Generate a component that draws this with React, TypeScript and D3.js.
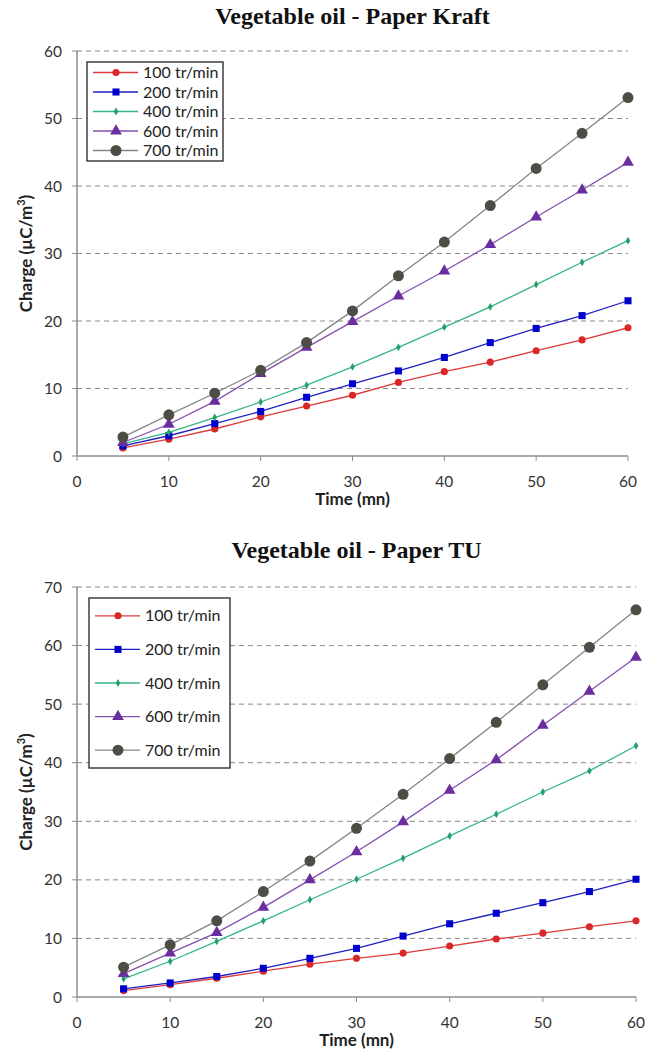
import React, { useEffect, useRef } from 'react';
import * as d3 from 'd3';

// time axis (mn)
const times = [5, 10, 15, 20, 25, 30, 35, 40, 45, 50, 55, 60];
const speeds = ['100 tr/min', '200 tr/min', '400 tr/min', '600 tr/min', '700 tr/min'];
const xTicks = [0, 10, 20, 30, 40, 50, 60];
const kraftTicks = [0, 10, 20, 30, 40, 50, 60];
const tuTicks = [0, 10, 20, 30, 40, 50, 60, 70];

// Vegetable oil - Paper Kraft
const kraft100 = [1.2, 2.5, 4.0, 5.8, 7.4, 9.0, 10.9, 12.5, 13.9, 15.6, 17.2, 19.0];
const kraft200 = [1.5, 3.0, 4.8, 6.6, 8.7, 10.7, 12.6, 14.6, 16.8, 18.9, 20.8, 23.0];
const kraft400 = [1.8, 3.5, 5.7, 8.0, 10.5, 13.2, 16.1, 19.1, 22.1, 25.4, 28.7, 31.9];
const kraft600 = [2.0, 4.7, 8.1, 12.2, 16.1, 19.9, 23.7, 27.4, 31.3, 35.4, 39.4, 43.5];
const kraft700 = [2.8, 6.1, 9.3, 12.7, 16.8, 21.5, 26.7, 31.7, 37.1, 42.6, 47.8, 53.1];

// Vegetable oil - Paper TU
const tu100 = [1.1, 2.1, 3.2, 4.4, 5.6, 6.6, 7.5, 8.7, 9.9, 10.9, 12.0, 13.0];
const tu200 = [1.4, 2.4, 3.5, 4.9, 6.6, 8.3, 10.4, 12.5, 14.3, 16.1, 18.0, 20.1];
const tu400 = [3.1, 6.1, 9.5, 13.0, 16.6, 20.1, 23.7, 27.5, 31.2, 35.0, 38.6, 42.9];
const tu600 = [4.0, 7.5, 11.0, 15.3, 20.0, 24.8, 29.9, 35.3, 40.5, 46.4, 52.2, 58.0];
const tu700 = [5.1, 8.9, 13.0, 18.0, 23.2, 28.8, 34.6, 40.7, 46.9, 53.3, 59.7, 66.1];

const lineColors = ['#e03a3a', '#2020c0', '#35b585', '#8450b0', '#858585'];
const markColors = ['#d82828', '#0000cc', '#22a068', '#6a2e9e', '#4d4d45'];
const markTypes = [d3.symbolCircle, d3.symbolSquare, d3.symbolDiamond, d3.symbolTriangle, d3.symbolCircle];
const markSizes = [40, 50, 18, 60, 95];

const sansFont = 'Lato, "Open Sans", sans-serif';

type ChartProps = {
  top: number;
  title: string;
  series: number[][];
  yTicks: number[];
  plot: { x0: number; x1: number; y0: number; y1: number };
  legend: { x: number; y: number; w: number; h: number; row: number };
};

const drawChart = (svg: d3.Selection<SVGSVGElement, unknown, null, undefined>, p: ChartProps) => {
  const g = svg.append('g');
  const { x0, x1, y0, y1 } = p.plot;
  const x = d3.scaleLinear().domain([0, 60]).range([x0, x1]);
  const y = d3.scaleLinear().domain([0, d3.max(p.yTicks) as number]).range([y0, y1]);

  g.append('text')
    .attr('x', (x0 + x1) / 2)
    .attr('y', p.top)
    .attr('text-anchor', 'middle')
    .attr('font-family', '"Liberation Serif", "Times New Roman", serif')
    .attr('font-weight', 'bold')
    .attr('font-size', 24)
    .attr('fill', '#111')
    .text(p.title);

  // gridlines
  g.selectAll('.grid')
    .data(p.yTicks.filter(d => d > 0))
    .enter().append('line')
    .attr('x1', x0)
    .attr('x2', x1)
    .attr('y1', d => y(d))
    .attr('y2', d => y(d))
    .attr('stroke', '#8a8a8a')
    .attr('stroke-dasharray', '5,4')
    .attr('stroke-width', 1);

  // axes
  g.append('line')
    .attr('x1', x0).attr('x2', x0)
    .attr('y1', y0).attr('y2', y1)
    .attr('stroke', '#8c8c8c').attr('stroke-width', 1.5);
  g.append('line')
    .attr('x1', x0).attr('x2', x1)
    .attr('y1', y0).attr('y2', y0)
    .attr('stroke', '#8c8c8c').attr('stroke-width', 1.5);

  g.selectAll('.ytick')
    .data(p.yTicks)
    .enter().append('line')
    .attr('x1', x0 - 5).attr('x2', x0)
    .attr('y1', d => y(d)).attr('y2', d => y(d))
    .attr('stroke', '#8c8c8c');
  g.selectAll('.ylab')
    .data(p.yTicks)
    .enter().append('text')
    .attr('x', x0 - 15)
    .attr('y', d => y(d) + 5.5)
    .attr('text-anchor', 'end')
    .attr('font-family', sansFont)
    .attr('font-size', 15.5)
    .attr('fill', '#333')
    .text(d => d);

  g.selectAll('.xtick')
    .data(xTicks)
    .enter().append('line')
    .attr('x1', d => x(d)).attr('x2', d => x(d))
    .attr('y1', y0).attr('y2', y0 + 5)
    .attr('stroke', '#8c8c8c');
  g.selectAll('.xlab')
    .data(xTicks)
    .enter().append('text')
    .attr('x', d => x(d))
    .attr('y', y0 + 31)
    .attr('text-anchor', 'middle')
    .attr('font-family', sansFont)
    .attr('font-size', 15.5)
    .attr('fill', '#333')
    .text(d => d);

  g.append('text')
    .attr('x', (x0 + x1) / 2)
    .attr('y', y0 + 49)
    .attr('text-anchor', 'middle')
    .attr('font-family', sansFont)
    .attr('font-weight', 'bold')
    .attr('font-size', 17)
    .attr('fill', '#222')
    .text('Time (mn)');

  const yl = g.append('text')
    .attr('transform', `translate(32, ${(y0 + y1) / 2}) rotate(-90)`)
    .attr('text-anchor', 'middle')
    .attr('font-family', sansFont)
    .attr('font-weight', 'bold')
    .attr('font-size', 17)
    .attr('fill', '#222');
  yl.append('tspan').text('Charge (µC/m');
  yl.append('tspan').attr('dy', -7).attr('font-size', 11).text('3');
  yl.append('tspan').attr('dy', 7).text(')');

  const line = d3.line<number>()
    .x((d, i) => x(times[i]))
    .y(d => y(d));

  p.series.forEach((vals, si) => {
    g.append('path')
      .datum(vals)
      .attr('d', line)
      .attr('fill', 'none')
      .attr('stroke', lineColors[si])
      .attr('stroke-width', 1.3);
    g.selectAll(`.m${si}`)
      .data(vals)
      .enter().append('path')
      .attr('transform', (d, i) => `translate(${x(times[i])},${y(d)})`)
      .attr('d', d3.symbol().type(markTypes[si]).size(markSizes[si])())
      .attr('fill', markColors[si]);
  });

  // legend
  const L = p.legend;
  const lg = g.append('g').attr('transform', `translate(${L.x},${L.y})`);
  lg.append('rect')
    .attr('width', L.w).attr('height', L.h)
    .attr('fill', '#fff').attr('stroke', '#222').attr('stroke-width', 1.3);
  const items = lg.selectAll('.legend')
    .data(speeds)
    .enter().append('g')
    .attr('transform', (d, i) => `translate(0, ${L.row * (i + 0.5) + (L.h - L.row * speeds.length) / 2})`);
  items.append('line')
    .attr('x1', 6).attr('x2', 51)
    .attr('stroke', (d, i) => lineColors[i]).attr('stroke-width', 1.3);
  items.append('path')
    .attr('transform', 'translate(29,0)')
    .attr('d', (d, i) => d3.symbol().type(markTypes[i]).size(markSizes[i])())
    .attr('fill', (d, i) => markColors[i]);
  items.append('text')
    .attr('x', 56)
    .attr('y', 5.5)
    .attr('font-family', sansFont)
    .attr('font-size', 16)
    .attr('fill', '#222')
    .text(d => d);
};

const App = () => {
  const ref = useRef<SVGSVGElement>(null);

  useEffect(() => {
    const svg = d3.select(ref.current as SVGSVGElement);
    svg.selectAll('*').remove();
    drawChart(svg, {
      top: 24,
      title: 'Vegetable oil - Paper Kraft',
      series: [kraft100, kraft200, kraft400, kraft600, kraft700],
      yTicks: kraftTicks,
      plot: { x0: 77, x1: 628, y0: 456, y1: 51 },
      legend: { x: 87, y: 62, w: 136, h: 99, row: 19.5 },
    });
    drawChart(svg, {
      top: 558,
      title: 'Vegetable oil - Paper TU',
      series: [tu100, tu200, tu400, tu600, tu700],
      yTicks: tuTicks,
      plot: { x0: 77, x1: 636, y0: 997, y1: 587 },
      legend: { x: 89, y: 598, w: 141, h: 170, row: 33.6 },
    });
    return () => {
      svg.selectAll('*').remove();
    };
  }, []);

  return (
    <svg
      ref={ref}
      width={656}
      height={1052}
      style={{ position: 'absolute', left: 0, top: 0, background: '#fff' }}
    />
  );
};

export default App;
